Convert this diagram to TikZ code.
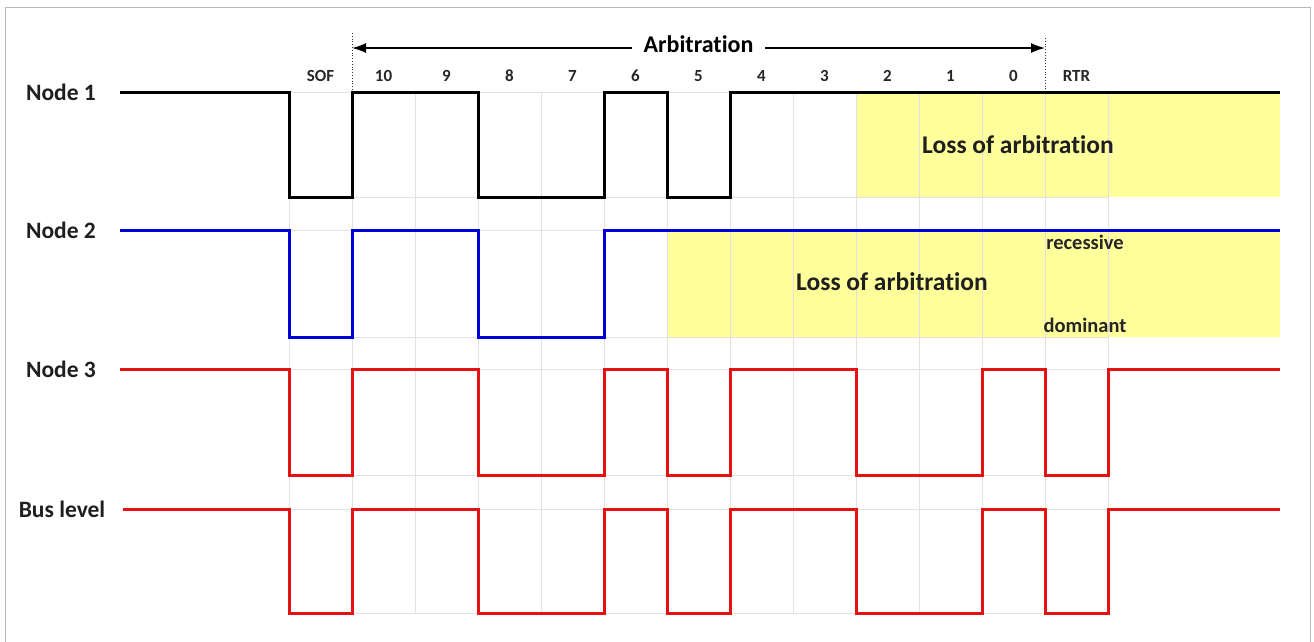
\documentclass[tikz,border=0pt]{standalone}
\usepackage{fontspec}
\setmainfont{Carlito}[Ligatures=NoCommon]
\usetikzlibrary{arrows.meta}

\definecolor{lossyellow}{RGB}{255,255,156}
\definecolor{gridgray}{RGB}{226,226,226}
\definecolor{sigblue}{RGB}{0,0,215}
\definecolor{sigred}{RGB}{228,18,18}

\tikzset{
  wave/.style={line width=3pt},
  gridline/.style={gridgray, line width=0.9pt},
  rowlabel/.style={font=\bfseries\fontsize{23.5}{28}\selectfont, text=black!88},
  bitlabel/.style={font=\bfseries\fontsize{17}{20}\selectfont, text=black!85},
  losslabel/.style={font=\bfseries\fontsize{25.5}{30}\selectfont, text=black!88},
  levellabel/.style={font=\bfseries\fontsize{20.5}{24}\selectfont, text=black!85}
}

\begin{document}
\begin{tikzpicture}[>={Latex[length=14pt,width=10pt]}, x=1pt, y=-1pt]

\useasboundingbox (0,0) rectangle (1314,641);
\clip (0,0) rectangle (1314,641);
\draw [gray!55, line width=1pt] (5,7) rectangle (1310,660);

% loss of arbitration areas
\fill [lossyellow] (856,92) rectangle (1280,197);
\fill [lossyellow] (667,230) rectangle (1280,337);

% grid
\foreach \y in {92,197,230,337,369,475,509,613}
    \draw [gridline] (289,\y)--(1108,\y);
\foreach \k in {0,1,...,13}
    \draw [gridline] ({289+63*\k},92)--({289+63*\k},613);

% bit numbers
\foreach \lbl [count=\k from 0] in {SOF,10,9,8,7,6,5,4,3,2,1,0,RTR}
    \node [bitlabel] (bit\k) at ({320.5+63*\k},76) {\lbl};

% arbitration field
\coordinate (arbL) at (352,48);
\coordinate (arbR) at (1045,48);
\draw [black!80, dotted, line width=0.8pt] (352,33)--(352,92);
\draw [black!80, dotted, line width=0.8pt] (1045,38)--(1045,92);
\draw [<->, line width=1.5pt] (arbL)--(arbR)
    node [midway, fill=white, inner xsep=12pt, inner ysep=1pt, yshift=4pt,
          font=\bfseries\fontsize{24}{28}\selectfont] (arb) {Arbitration};

% signals
\node [rowlabel] (node1) at (61,92) {Node 1};
\node [rowlabel] (node2) at (61,230) {Node 2};
\node [rowlabel] (node3) at (61,369) {Node 3};
\node [rowlabel] (bus) at (62,509) {Bus level};

\draw [wave, black] (120,92) -| (289,197) -| (352,92) -| (478,197) -| (604,92)
    -| (667,197) -| (730,92) -- (1280,92);
\draw [wave, sigblue] (120,230) -| (289,337) -| (352,230) -| (478,337) -| (604,230)
    -- (1280,230);
\draw [wave, sigred] (120,369) -| (289,475) -| (352,369) -| (478,475) -| (604,369)
    -| (667,475) -| (730,369) -| (856,475) -| (982,369) -| (1045,475) -| (1108,369)
    -- (1280,369);
\draw [wave, sigred] (123,509) -| (289,613) -| (352,509) -| (478,613) -| (604,509)
    -| (667,613) -| (730,509) -| (856,613) -| (982,509) -| (1045,613) -| (1108,509)
    -- (1280,509);

\node [losslabel] (loss1) at (1018,145) {Loss of arbitration};
\node [losslabel] (loss2) at (892,282) {Loss of arbitration};
\node [levellabel] (rec) at (1085,242) {recessive};
\node [levellabel] (dom) at (1085,325) {dominant};

\end{tikzpicture}
\end{document}
